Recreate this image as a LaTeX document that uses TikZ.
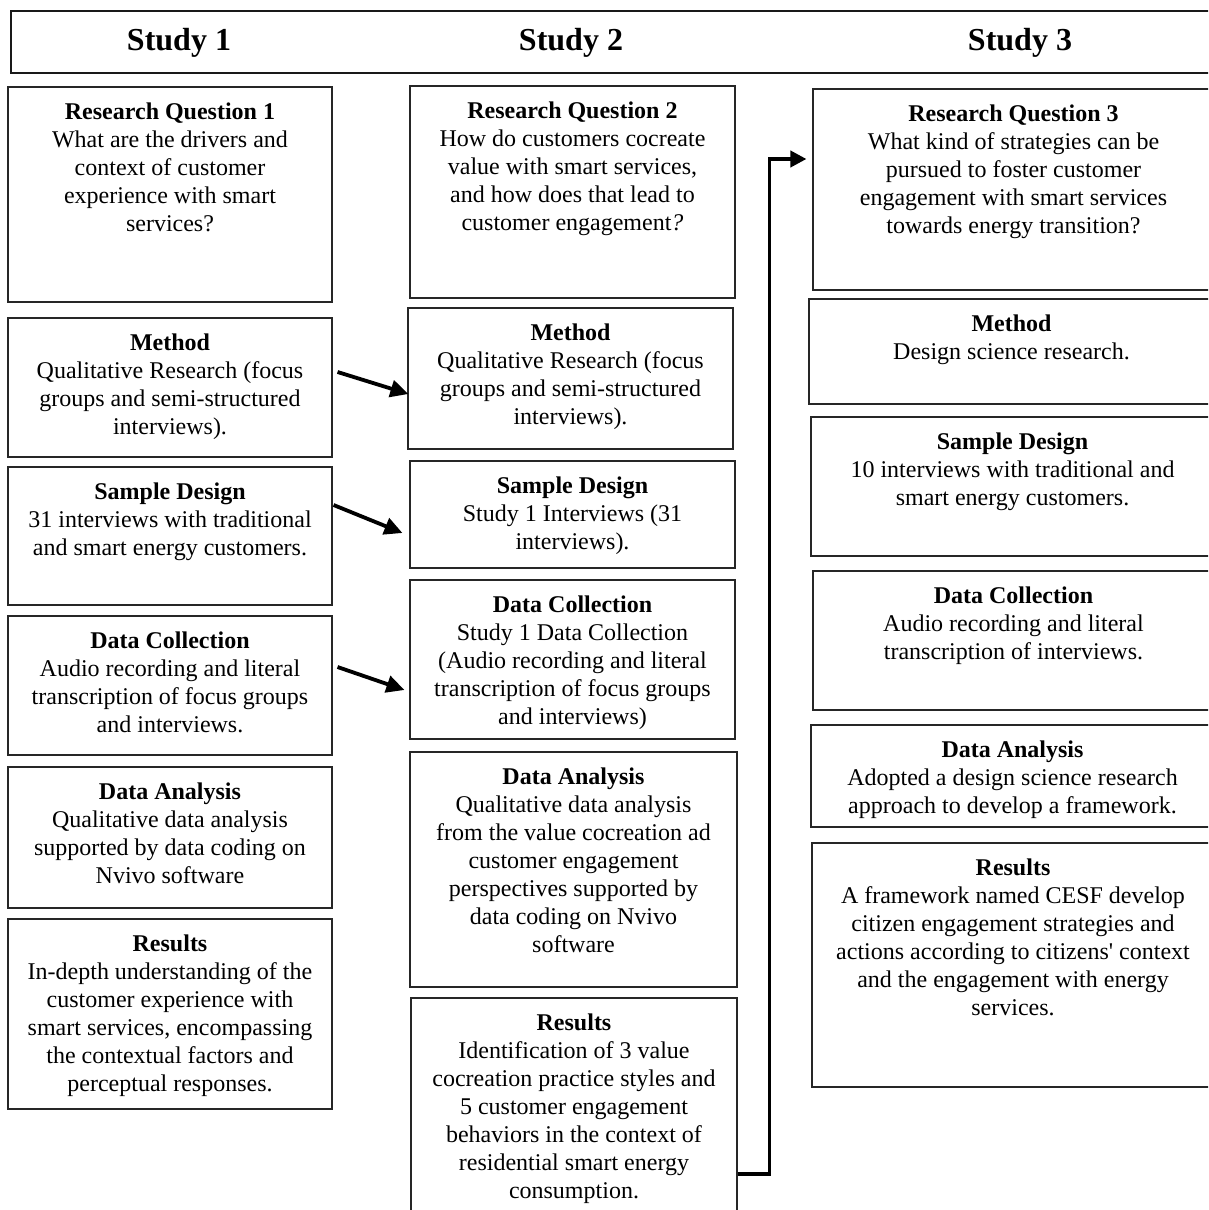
\documentclass[tikz,border=0pt]{standalone}
\usepackage{fontspec}
\setmainfont{Liberation Serif}
\usetikzlibrary{arrows.meta,fit,calc}
\newcommand\bx[6]{%
  \node[boxst, fit={(#2,#3) (#4,#5)}] (#1) {};
  \node[txt, anchor=north] (#1t) at ([shift={(0,16)}]#1.north) {#6};
}
\begin{document}
\begin{tikzpicture}[x=1pt,y=-1pt,
  boxst/.style={draw=black!85, line width=1.1pt, inner sep=0pt},
  hdrbox/.style={draw=black!90, line width=2pt, inner sep=0pt},
  txt/.style={align=center, inner sep=0pt, font=\fontsize{24}{28}\selectfont},
  hdr/.style={inner sep=0pt, anchor=base, font=\fontsize{32}{38}\selectfont\bfseries},
  conn/.style={line width=3.8pt, -{Triangle[length=18pt,width=17pt]}},
  bigconn/.style={line width=3.8pt, line join=miter, -{Triangle[length=16pt,width=16pt]}}]
\useasboundingbox (0,0) rectangle (1208,1210);
\clip (0,0) rectangle (1208,1210);
\fill[white] (0,0) rectangle (1208,1210);

% header
\node[hdrbox, fit={(11,11) (1216,73)}] (hdr) {};
\node[hdr] (st1) at (179,50) {Study 1};
\node[hdr] (st2) at (571,50) {Study 2};
\node[hdr] (st3) at (1020,50) {Study 3};

% column 1
\bx{rq1}{8}{87}{332}{302}{\textbf{Research Question 1}\\What are the drivers and\\context of customer\\experience with smart\\services?}
\bx{m1}{8}{318}{332}{457}{\textbf{Method}\\Qualitative Research (focus\\groups and semi-structured\\interviews).}
\bx{s1}{8}{467}{332}{605}{\textbf{Sample Design}\\31 interviews with traditional\\and smart energy customers.}
\bx{d1}{8}{616}{332}{755}{\textbf{Data Collection}\\Audio recording and literal\\transcription of focus groups\\and interviews.}
\bx{a1}{8}{767}{332}{908}{\textbf{Data Analysis}\\Qualitative data analysis\\supported by data coding on\\Nvivo software}
\bx{r1}{8}{919}{332}{1109}{\textbf{Results}\\In-depth understanding of the\\customer experience with\\smart services, encompassing\\the contextual factors and\\perceptual responses.}

% column 2
\bx{rq2}{410}{86}{735}{298}{\textbf{Research Question 2}\\How do customers cocreate\\value with smart services,\\and how does that lead to\\customer engagement\textit{?}}
\bx{m2}{408}{308}{733}{449}{\textbf{Method}\\Qualitative Research (focus\\groups and semi-structured\\interviews).}
\bx{s2}{410}{461}{735}{568}{\textbf{Sample Design}\\Study 1 Interviews (31\\interviews).}
\bx{d2}{410}{580}{735}{739}{\textbf{Data Collection}\\Study 1 Data Collection\\(Audio recording and literal\\transcription of focus groups\\and interviews)}
\bx{a2}{410}{752}{737}{987}{\textbf{Data Analysis}\\Qualitative data analysis\\from the value cocreation ad\\customer engagement\\perspectives supported by\\data coding on Nvivo\\software}
\bx{r2}{411}{998}{737}{1216}{\textbf{Results}\\Identification of 3 value\\cocreation practice styles and\\5 customer engagement\\behaviors in the context of\\residential smart energy\\consumption.}

% column 3
\bx{rq3}{813}{89}{1214}{290}{\textbf{Research Question 3}\\What kind of strategies can be\\pursued to foster customer\\engagement with smart services\\towards energy transition?}
\bx{m3}{809}{299}{1214}{404}{\textbf{Method}\\Design science research.}
\bx{s3}{811}{417}{1214}{556}{\textbf{Sample Design}\\10 interviews with traditional and\\smart energy customers.}
\bx{d3}{813}{571}{1214}{710}{\textbf{Data Collection}\\Audio recording and literal\\transcription of interviews.}
\bx{a3}{811}{725}{1214}{827}{\textbf{Data Analysis}\\Adopted a design science research\\approach to develop a framework.}
\bx{r3}{812}{843}{1214}{1087}{\textbf{Results}\\A framework named CESF develop\\citizen engagement strategies and\\actions according to citizens\textquotesingle{} context\\and the engagement with energy\\services.}

% connectors
\draw[conn] ([shift={(5,-15.5)}]m1.east) -- ([shift={(1,15.5)}]m2.west);
\draw[conn] ([shift={(1,-31)}]s1.east) -- ([shift={(-7,18.5)}]s2.west);
\draw[conn] ([shift={(5,-18.5)}]d1.east) -- ([shift={(-5,30.5)}]d2.west);
\draw[bigconn] ([shift={(0,67)}]r2.east) -- ++(32,0) |- ([shift={(-6,-30.5)}]rq3.west);
\end{tikzpicture}
\end{document}
